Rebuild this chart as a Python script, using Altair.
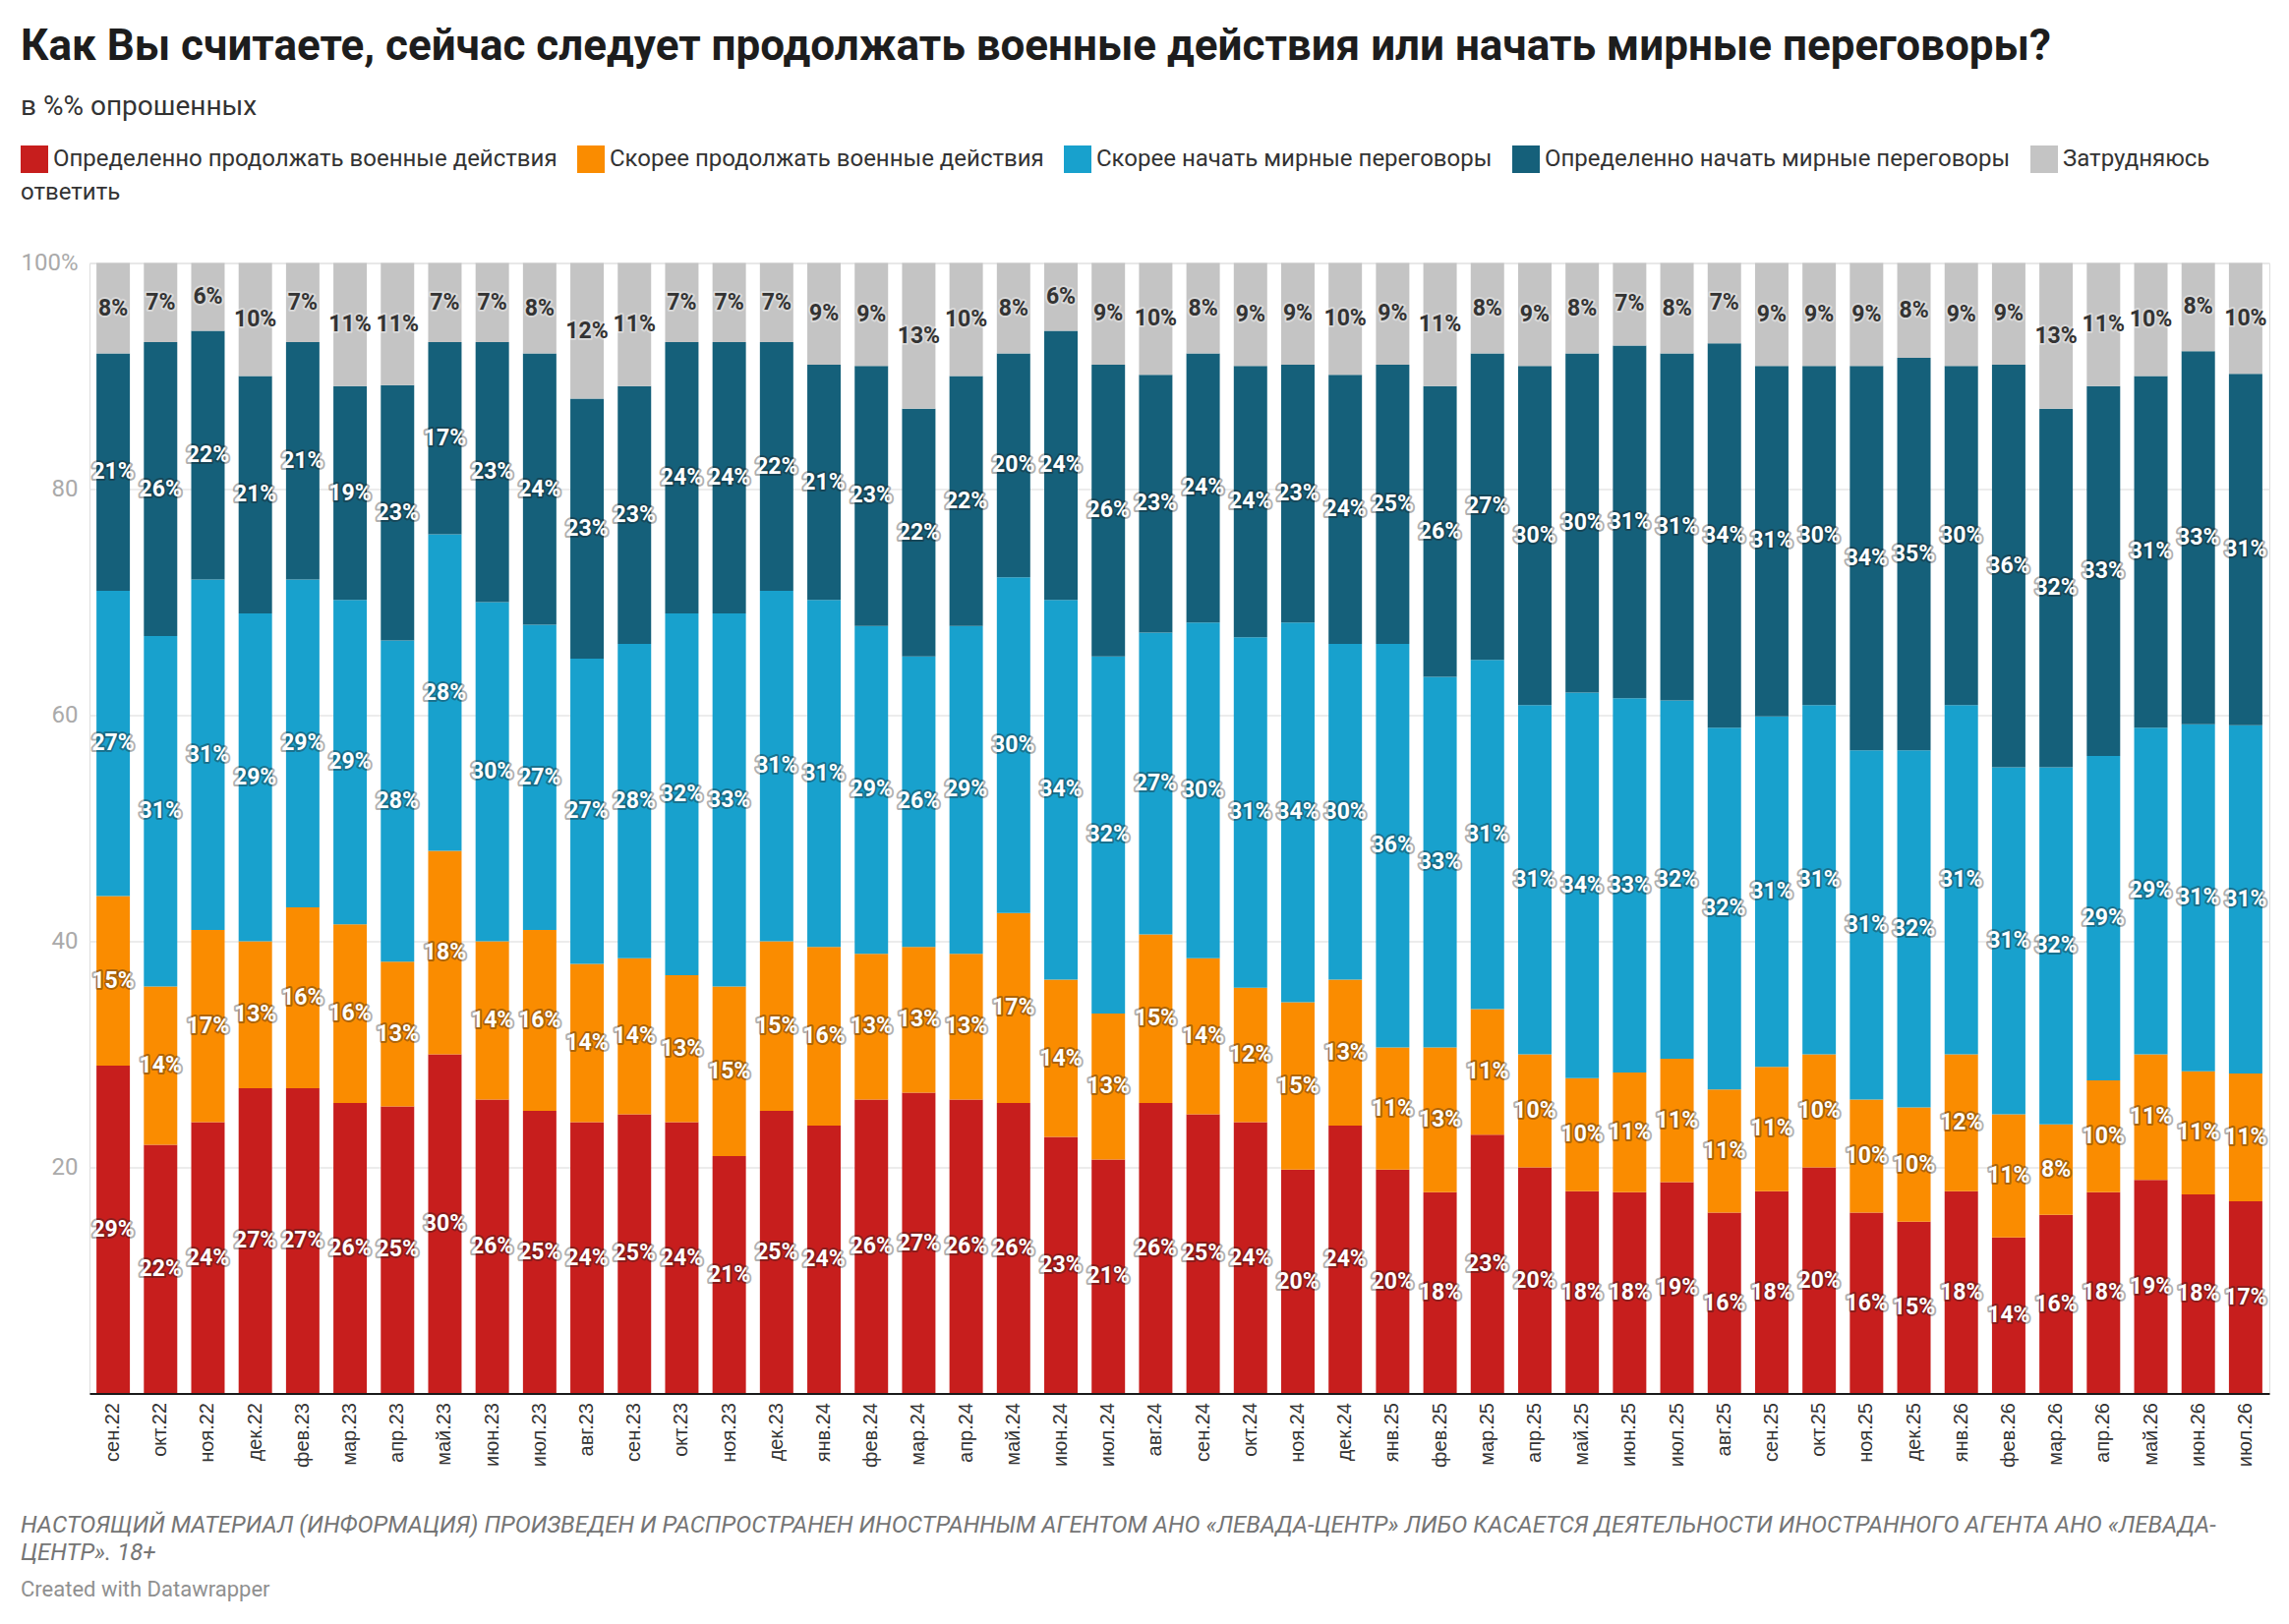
import altair as alt
import pandas as pd

months = ["сен.22", "окт.22", "ноя.22", "дек.22", "фев.23", "мар.23", "апр.23", "май.23", "июн.23", "июл.23",
          "авг.23", "сен.23", "окт.23", "ноя.23", "дек.23", "янв.24", "фев.24", "мар.24", "апр.24", "май.24",
          "июн.24", "июл.24", "авг.24", "сен.24", "окт.24", "ноя.24", "дек.24", "янв.25", "фев.25", "мар.25",
          "апр.25", "май.25", "июн.25", "июл.25", "авг.25", "сен.25", "окт.25", "ноя.25", "дек.25", "янв.26",
          "фев.26", "мар.26", "апр.26", "май.26", "июн.26", "июл.26"]

series = ["Определенно продолжать военные действия",
          "Скорее продолжать военные действия",
          "Скорее начать мирные переговоры",
          "Определенно начать мирные переговоры",
          "Затрудняюсь ответить"]

colors = ["#c71e1d", "#fa8c00", "#18a1cd", "#15607a", "#c4c4c4"]

red = [29, 22, 24, 27, 27, 25.7, 25.4, 30, 26, 25, 24, 24.7, 24, 21, 25, 23.7, 26, 26.6, 26, 25.7,
       22.7, 20.7, 25.7, 24.7, 24, 19.8, 23.7, 19.8, 17.8, 22.9, 20, 17.9, 17.8, 18.7, 16, 17.9, 20, 16,
       15.2, 17.9, 13.8, 15.8, 17.8, 18.9, 17.6, 17]
orange = [15, 14, 17, 13, 16, 15.8, 12.8, 18, 14, 16, 14, 13.8, 13, 15, 15, 15.8, 12.9, 12.9, 12.9, 16.8,
          13.9, 12.9, 14.9, 13.8, 11.9, 14.8, 12.9, 10.8, 12.8, 11.1, 10, 10, 10.6, 10.9, 10.9, 11, 10, 10,
          10.1, 12.1, 10.9, 8, 9.9, 11.1, 10.9, 11.3]
lightblue = [27, 31, 31, 29, 29, 28.7, 28.4, 28, 30, 27, 27, 27.8, 32, 33, 31, 30.7, 29, 25.7, 29, 29.7,
             33.6, 31.6, 26.7, 29.7, 31, 33.6, 29.7, 35.7, 32.8, 30.9, 30.9, 34.1, 33.1, 31.7, 32, 31, 30.9,
             30.9, 31.6, 30.9, 30.7, 31.6, 28.7, 28.9, 30.7, 30.8]
darkblue = [21, 26, 22, 21, 21, 18.9, 22.6, 17, 23, 24, 23, 22.8, 24, 24, 22, 20.8, 23, 21.9, 22.1, 19.8,
            23.8, 25.8, 22.8, 23.8, 24, 22.8, 23.8, 24.7, 25.7, 27.1, 30, 30, 31.2, 30.7, 34, 31, 30, 34,
            34.7, 30, 35.6, 31.7, 32.7, 31.1, 33, 31.1]
grey = [8, 7, 6, 10, 7, 10.9, 10.8, 7, 7, 8, 12, 10.9, 7, 7, 7, 9, 9.1, 12.9, 10, 8, 6, 9, 9.9, 8, 9.1,
        9, 9.9, 9, 10.9, 8, 9.1, 8, 7.3, 8, 7.1, 9.1, 9.1, 9.1, 8.4, 9.1, 9, 12.9, 10.9, 10, 7.8, 9.8]

y_ticks = [0, 20, 40, 60, 80, 100]

title_text = "Как Вы считаете, сейчас следует продолжать военные действия или начать мирные переговоры?"
subtitle_text = "в %% опрошенных"
footer_line1 = "НАСТОЯЩИЙ МАТЕРИАЛ (ИНФОРМАЦИЯ) ПРОИЗВЕДЕН И РАСПРОСТРАНЕН ИНОСТРАННЫМ АГЕНТОМ АНО «ЛЕВАДА-ЦЕНТР» ЛИБО КАСАЕТСЯ ДЕЯТЕЛЬНОСТИ ИНОСТРАННОГО АГЕНТА АНО «ЛЕВАДА-"
footer_line2 = "ЦЕНТР». 18+"
credit = "Created with Datawrapper"

all_values = [red, orange, lightblue, darkblue, grey]
rows = []
for i, m in enumerate(months):
    for j, s in enumerate(series):
        rows.append({"month": m, "series": s, "ord": j, "value": all_values[j][i]})
df = pd.DataFrame(rows)

W, H = 2217, 1150
LEFT = -70

base = alt.Chart(df).transform_stack(
    stack="value", groupby=["month"], sort=[alt.SortField("ord", order="ascending")], as_=["y0", "y1"]
).transform_calculate(
    mid="(datum.y0 + datum.y1) / 2",
    lab="round(datum.value) + '%'",
    tcol="datum.ord == 4 ? '#333333' : '#ffffff'",
    halo="datum.ord == 4 ? '#ffffff' : '#1a1a1a'",
)

xaxis = alt.Axis(title=None, labelAngle=-90, labelFont="Liberation Sans", labelFontSize=20,
                 labelColor="#333333", ticks=False, domain=True, domainColor="#1a1a1a",
                 domainWidth=2, labelPadding=9, grid=False, zindex=1)
xscale = alt.Scale(paddingInner=0.295, paddingOuter=0.1475)

yscale = alt.Scale(domain=[0, 100], nice=False)
yaxis = alt.Axis(values=y_ticks, title=None, domain=False, ticks=False,
                 labelExpr="datum.value == 100 ? '100%' : (datum.value == 0 ? '' : datum.label)",
                 gridColor="#e6e6e6", gridWidth=1.5, labelColor="#aaaaaa", labelFontSize=24,
                 labelFont="Roboto", labelPadding=12)

bars = base.mark_bar().encode(
    x=alt.X("month:N", sort=months, scale=xscale, axis=xaxis),
    y=alt.Y("y1:Q", scale=yscale, axis=yaxis),
    y2="y0:Q",
    color=alt.Color("series:N", scale=alt.Scale(domain=series, range=colors),
                    legend=alt.Legend(title=None, orient="none", legendX=LEFT, legendY=-119.5,
                                      direction="horizontal", columns=5, symbolType="square",
                                      symbolSize=784, symbolStrokeWidth=0, symbolOpacity=1,
                                      labelFont="Roboto", labelFontSize=24, labelColor="#333333",
                                      labelLimit=1000, columnPadding=20, labelOffset=5, padding=0,
                                      labelExpr="datum.label == 'Затрудняюсь ответить' ? 'Затрудняюсь' : datum.label")),
    order=alt.Order("ord:Q", sort="ascending"),
)

halo = base.mark_text(font="Roboto", fontSize=23, fontWeight="bold", strokeWidth=4, strokeJoin="round",
                      strokeOpacity=0.35, fillOpacity=0).encode(
    x=alt.X("month:N", sort=months, scale=xscale, axis=xaxis),
    y=alt.Y("mid:Q", scale=yscale, axis=yaxis),
    text="lab:N",
    stroke=alt.Stroke("halo:N", scale=None),
)

labels = base.mark_text(font="Roboto", fontSize=23, fontWeight="bold").encode(
    x=alt.X("month:N", sort=months, scale=xscale, axis=xaxis),
    y=alt.Y("mid:Q", scale=yscale, axis=yaxis),
    text="lab:N",
    color=alt.Color("tcol:N", scale=None),
)

legend_wrap = alt.Chart(pd.DataFrame({"t": ["ответить"]})).mark_text(
    align="left", baseline="alphabetic", font="Roboto", fontSize=24, color="#333333"
).encode(x=alt.value(LEFT), y=alt.value(-64.5), text="t:N")

footer1 = alt.Chart(pd.DataFrame({"t": [footer_line1]})).mark_text(
    align="left", baseline="middle", font="Roboto", fontSize=24, fontStyle="italic", color="#757575"
).encode(x=alt.value(LEFT), y=alt.value(1284.5), text="t:N")

footer2 = alt.Chart(pd.DataFrame({"t": [footer_line2]})).mark_text(
    align="left", baseline="middle", font="Roboto", fontSize=24, fontStyle="italic", color="#757575"
).encode(x=alt.value(LEFT), y=alt.value(1312.5), text="t:N")

credit_mark = alt.Chart(pd.DataFrame({"t": [credit]})).mark_text(
    align="left", baseline="middle", font="Roboto", fontSize=22, color="#909090"
).encode(x=alt.value(LEFT), y=alt.value(1349.5), text="t:N")

chart = alt.layer(bars, halo, labels, legend_wrap, footer1, footer2, credit_mark).properties(
    width=W, height=H,
    autosize=alt.AutoSizeParams(type="none"),
    padding={"left": 83, "top": 259.5, "right": 8, "bottom": 217},
    title=alt.TitleParams(text=title_text, subtitle=subtitle_text, anchor="start", frame="group", dx=LEFT,
                          font="Roboto", fontSize=44, fontWeight="bold", color="#1d1d1d",
                          subtitleFont="Roboto", subtitleFontSize=28, subtitleColor="#333333",
                          subtitlePadding=25.5, offset=25),
).configure_view(stroke=None).configure(font="Roboto")

chart.save("out.html", embed_options={"renderer": "svg", "actions": False})
